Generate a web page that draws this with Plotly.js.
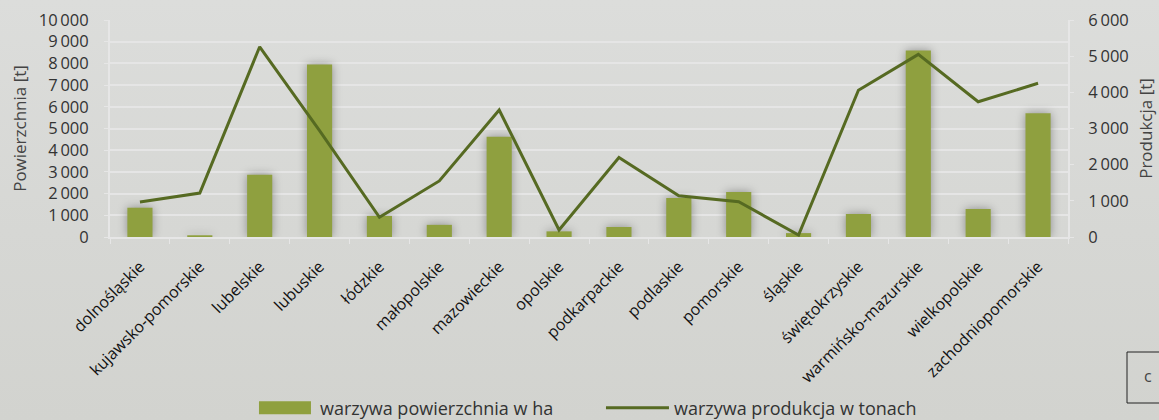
<!DOCTYPE html>
<html>
<head>
<meta charset="utf-8">
<script src="https://cdn.plot.ly/plotly-3.0.1.min.js"></script>
<style>
html,body{margin:0;padding:0;}
body{width:1159px;height:420px;overflow:hidden;
background:linear-gradient(180deg,#dcdddb 0%,#d6d7d4 55%,#d2d3cf 100%);}
#chart{width:1159px;height:420px;}
.bars .point path{filter:drop-shadow(0 0 5px rgba(0,0,0,0.35));}
</style>
</head>
<body>
<div id="chart"></div>
<script>
const categories = ["dolnośląskie","kujawsko-pomorskie","lubelskie","lubuskie","łódzkie","małopolskie","mazowieckie","opolskie","podkarpackie","podlaskie","pomorskie","śląskie","świętokrzyskie","warmińsko-mazurskie","wielkopolskie","zachodniopomorskie"];
const powierzchnia = [1350, 80, 2870, 7950, 970, 560, 4620, 260, 460, 1800, 2070, 180, 1060, 8600, 1290, 5700];
const produkcja = [970, 1215, 5260, 2940, 545, 1550, 3510, 195, 2200, 1140, 975, 55, 4060, 5050, 3740, 4250];
const leftTicks = [0,1000,2000,3000,4000,5000,6000,7000,8000,9000,10000];
const leftTickText = ["0","1\u2009000","2\u2009000","3\u2009000","4\u2009000","5\u2009000","6\u2009000","7\u2009000","8\u2009000","9\u2009000","10\u2009000"];
const rightTicks = [0,1000,2000,3000,4000,5000,6000];
const rightTickText = ["0","1\u2009000","2\u2009000","3\u2009000","4\u2009000","5\u2009000","6\u2009000"];

const font = "Open Sans, Noto Sans, sans-serif";
const traces = [
  {type:"bar", x:categories, y:powierzchnia, name:"warzywa powierzchnia w ha",
   marker:{color:"#8fa03f"}, width:0.42, yaxis:"y"},
  {type:"scatter", mode:"lines", x:categories, y:produkcja, name:"warzywa produkcja w tonach",
   line:{color:"#566a22", width:3}, yaxis:"y2"}
];
const layout = {
  width:1159, height:420,
  margin:{l:110, r:91, t:20, b:183, autoexpand:false},
  paper_bgcolor:"rgba(0,0,0,0)", plot_bgcolor:"rgba(0,0,0,0)",
  font:{family:font, color:"#333", size:17},
  showlegend:true,
  legend:{orientation:"h", x:0.5125, xanchor:"center", yref:"container", y:0.0286, yanchor:"middle",
          font:{size:18, color:"#333"}, itemwidth:63, entrywidth:276, entrywidthmode:"pixels",
          bgcolor:"rgba(0,0,0,0)"},
  xaxis:{type:"category", tickangle:-45, tickfont:{size:16, color:"#111"},
         showline:true, linecolor:"#e6e6e6", linewidth:2, ticks:"outside", ticklen:5,
         tickcolor:"#e6e6e6", tickson:"boundaries", showgrid:false, range:[-0.5,15.5],
         ticklabelstandoff:12},
  yaxis:{range:[0,10000], tickvals:leftTicks, ticktext:leftTickText, tickfont:{size:16.5, color:"#333"},
         showgrid:true, gridcolor:"#e5e5e5", gridwidth:2, zeroline:false,
         showline:true, linecolor:"#e6e6e6", linewidth:2, ticks:"outside", ticklen:4, tickcolor:"#e6e6e6",
         ticklabelstandoff:12,
         title:{text:"Powierzchnia [t]", font:{size:17, color:"#444"}, standoff:8}},
  yaxis2:{range:[0,6000], overlaying:"y", side:"right", tickvals:rightTicks, ticktext:rightTickText,
          tickfont:{size:16.5, color:"#333"}, showgrid:false, zeroline:false,
          showline:true, linecolor:"#e6e6e6", linewidth:2, ticks:"outside", ticklen:4, tickcolor:"#e6e6e6",
          ticklabelstandoff:11,
          title:{text:"Produkcja [t]", font:{size:17, color:"#444"}, standoff:12}},
  shapes:[{type:"rect", xref:"paper", yref:"paper", x0:1.0616, x1:1.1, y0:-0.53, y1:-0.765,
           line:{color:"#222", width:1}, fillcolor:"rgba(0,0,0,0)"}],
  annotations:[{xref:"paper", yref:"paper", x:1.09, y:-0.70, text:"c", showarrow:false,
                font:{size:16, color:"#444"}}]
};
Plotly.newPlot("chart", traces, layout, {displayModeBar:false, staticPlot:true}).then(function(){
  const items = document.querySelectorAll(".legend .traces");
  if (!items.length) return;
  const first = items[0];
  const p = first.querySelector(".legendpoints path");
  const t = first.querySelector("text");
  if (!p || !t) return;
  const pr = p.getBoundingClientRect(), tr = t.getBoundingClientRect();
  const cx = (pr.left + pr.right) / 2;
  const x1 = tr.left - 9 - cx, x0 = x1 - 52;
  p.setAttribute("d", "M" + x0 + ",6.5H" + x1 + "V-6.5H" + x0 + "Z");
});
</script>
</body>
</html>
